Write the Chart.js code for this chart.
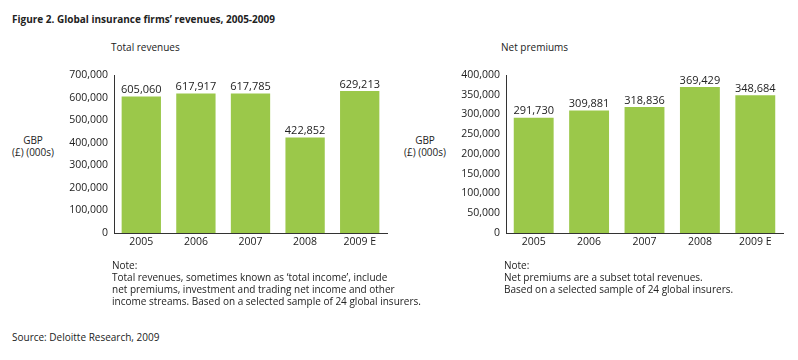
<!DOCTYPE html>
<html>
<head>
<meta charset="utf-8">
<script src="https://cdn.jsdelivr.net/npm/chart.js@4.4.0/dist/chart.umd.min.js"></script>
<style>
  body { margin: 0; background: #fff; font-family: "Open Sans", sans-serif; color: #222; }
  #page { position: relative; width: 798px; height: 360px; overflow: hidden; }
  .t { position: absolute; font-size: 10px; line-height: 12px; white-space: nowrap; }
  .cv { position: absolute; }
</style>
</head>
<body>
<div id="page">
  <div class="t" style="left:12px;top:13px;font-weight:bold;font-size:10px;">Figure 2. Global insurance firms’ revenues, 2005-2009</div>
  <div class="t" style="left:111px;top:41px;">Total revenues</div>
  <div class="t" style="left:501px;top:41px;">Net premiums</div>

  <div class="t" style="left:3px;top:134px;text-align:center;width:60px;">GBP<br>(£) (000s)</div>
  <div class="t" style="left:395px;top:134px;text-align:center;width:60px;">GBP<br>(£) (000s)</div>

  <div class="cv" style="left:20px;top:60px;width:380px;height:200px;"><canvas id="left_chart"></canvas></div>
  <div class="cv" style="left:400px;top:60px;width:398px;height:200px;"><canvas id="right_chart"></canvas></div>

  <div class="t" style="left:112px;top:259px;">Note:<br>Total revenues, sometimes known as ‘total income’, include<br>net premiums, investment and trading net income and other<br>income streams. Based on a selected sample of 24 global insurers.</div>
  <div class="t" style="left:504px;top:259px;">Note:<br>Net premiums are a subset total revenues.<br>Based on a selected sample of 24 global insurers.</div>

  <div class="t" style="left:12px;top:331px;">Source: Deloitte Research, 2009</div>
</div>
<script>
var years = ['2005', '2006', '2007', '2008', '2009 E'];
var totalRevenues = [605060, 617917, 617785, 422852, 629213];
var netPremiums = [291730, 309881, 318836, 369429, 348684];

var barGreen = '#9bc84a';
var txt = '#222';
var fnt = { family: 'Open Sans', size: 10.5 };

var valueLabels = {
    id: 'valueLabels',
    afterDatasetsDraw(chart) {
        var ctx = chart.ctx;
        var meta = chart.getDatasetMeta(0);
        ctx.save();
        ctx.fillStyle = txt;
        ctx.font = '11px "Open Sans"';
        ctx.textAlign = 'center';
        ctx.textBaseline = 'bottom';
        meta.data.forEach(function (bar, i) {
            var v = chart.data.datasets[0].data[i];
            ctx.fillText(v.toLocaleString('en-US'), bar.x, bar.y - 1);
        });
        ctx.restore();
    }
};

function makeChart(id, values, max, step, yWidth, padRight) {
    var ctx = document.getElementById(id);
    return new Chart(ctx, {
        type: 'bar',
        data: {
            labels: years,
            datasets: [{
                data: values,
                backgroundColor: barGreen,
                barPercentage: 0.72,
                categoryPercentage: 1
            }]
        },
        options: {
            responsive: true,
            maintainAspectRatio: false,
            animation: false,
            layout: { padding: { top: 15, right: padRight, bottom: 0, left: 0 } },
            plugins: { legend: { display: false }, tooltip: { enabled: false } },
            scales: {
                x: {
                    grid: { display: false, drawTicks: false },
                    border: { color: '#333', width: 1 },
                    ticks: { color: txt, font: fnt, padding: 3 },
                    afterFit(scale) { scale.height = 27; }
                },
                y: {
                    min: 0,
                    max: max,
                    grid: { display: false, drawTicks: false },
                    border: { color: '#333', width: 1 },
                    ticks: {
                        stepSize: step,
                        color: txt,
                        font: fnt,
                        padding: 6,
                        callback: function (v) { return v.toLocaleString('en-US'); }
                    },
                    afterFit(scale) { scale.width = yWidth; }
                }
            }
        },
        plugins: [valueLabels]
    });
}

makeChart('left_chart', totalRevenues, 700000, 100000, 94, 13);
makeChart('right_chart', netPremiums, 400000, 50000, 106, 15);
</script>
</body>
</html>
